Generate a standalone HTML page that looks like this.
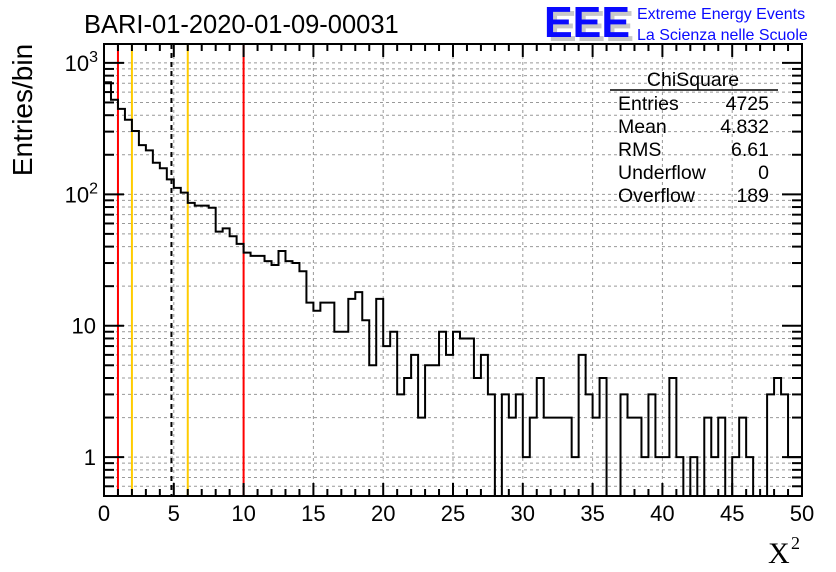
<!DOCTYPE html>
<html><head><meta charset="utf-8"><style>
body{margin:0;background:#fff;}
svg{display:block;font-family:"Liberation Sans",sans-serif;}
</style></head><body>
<svg id="chart" width="836" height="572" viewBox="0 0 836 572" xmlns="http://www.w3.org/2000/svg">
<rect width="836" height="572" fill="#fff"/>
<text x="84" y="33" font-size="25.5">BARI-01-2020-01-09-00031</text>
<g>
<text x="548" y="41" font-size="44" font-weight="bold" fill="#c8c8c8" textLength="86" lengthAdjust="spacingAndGlyphs">EEE</text>
<text x="544" y="37" font-size="44" font-weight="bold" fill="#0a0aff" textLength="86" lengthAdjust="spacingAndGlyphs">EEE</text>
<text x="637" y="19" font-size="16" fill="#0a0aff">Extreme Energy Events</text>
<text x="637" y="40" font-size="16" fill="#0a0aff">La Scienza nelle Scuole</text>
</g>
<g id="grid"></g>
<g id="marks"></g>
<g id="axes"></g>
<g font-size="19.5">
<text x="693" y="86" text-anchor="middle">ChiSquare</text>
<line x1="610" y1="90" x2="778" y2="90" stroke="#000" stroke-width="1.5"/>
<text x="618" y="110">Entries</text><text x="769" y="110" text-anchor="end">4725</text>
<text x="618" y="133">Mean</text><text x="769" y="133" text-anchor="end">4.832</text>
<text x="618" y="156">RMS</text><text x="769" y="156" text-anchor="end">6.61</text>
<text x="618" y="179">Underflow</text><text x="769" y="179" text-anchor="end">0</text>
<text x="618" y="202">Overflow</text><text x="769" y="202" text-anchor="end">189</text>
</g>
<text transform="translate(32,110) rotate(-90)" text-anchor="middle" font-size="28">Entries/bin</text>
<text x="768" y="563" font-size="30" font-family="Liberation Serif,serif">X</text>
<text x="791" y="549" font-size="18" font-family="Liberation Serif,serif">2</text>
</svg>
<script>
const binWidth = 0.5;
const counts = [713,525,447,369,303,237,216,174,158,130,112,103,86,82,82,79,52,55,48,42,36,34,34,31,29,37,31,30,26,15,13,15,15,9,9,16,18,11,5,16,7,9,3,4,6,2,5,5,9,6,9,8,8,4,6,3,0,3,2,3,1,2,4,2,2,2,2,1,6,3,2,4,0,0,3,2,2,1,3,1,1,4,1,0,1,0,2,1,2,0,1,2,1,0,0,3,4,3,1,1];
const xTicks = [0,5,10,15,20,25,30,35,40,45,50];
const yDecades = [1,10,100,1000];
const yLabels = ["1","10","10²","10³"];
const refLines = [1,2,4.832,6,10];
const refColors = ["#ff0000","#ffcc00","#000","#ffcc00","#ff0000"];

const L=104,R=802,T=44,B=496;
const xMin=0,xMax=50,yMin=0.506,yMax=1393;
const NS="http://www.w3.org/2000/svg";
function X(v){return L+(v-xMin)/(xMax-xMin)*(R-L);}
function Y(v){const lv=Math.log10(Math.max(v,yMin));return B-(lv-Math.log10(yMin))/(Math.log10(yMax)-Math.log10(yMin))*(B-T);}
function mk(tag,attrs,parent){const e=document.createElementNS(NS,tag);for(const k in attrs)e.setAttribute(k,attrs[k]);parent.appendChild(e);return e;}
const grid=document.getElementById('grid'),marks=document.getElementById('marks'),axes=document.getElementById('axes');
xTicks.forEach(t=>{if(t>xMin&&t<xMax)mk('line',{x1:X(t),x2:X(t),y1:T,y2:B,stroke:'#999','stroke-dasharray':'3,3'},grid);});
const minors=[];
for(let d=0.1;d<=1000;d*=10)for(let m=1;m<=9;m++){const v=+(d*m).toPrecision(3);if(v>=yMin&&v<=yMax)minors.push(v);}
minors.forEach(v=>mk('line',{x1:L,x2:R,y1:Y(v),y2:Y(v),stroke:'#999','stroke-dasharray':'3,3'},grid));
refLines.forEach((v,i)=>{
const l=mk('line',{x1:X(v),x2:X(v),y1:T,y2:B,stroke:refColors[i],'stroke-width':2},marks);
if(refColors[i]==="#000")l.setAttribute('stroke-dasharray','5,4');


});
let d='';
counts.forEach((c,i)=>{const x0=X(i*binWidth),x1=X((i+1)*binWidth),y=c>0?Y(c):B;
d+=(i===0?'M'+x0+','+y:'L'+x0+','+y)+'L'+x1+','+y;});
const h=mk('path',{d:d,fill:'none',stroke:'#000','stroke-width':2},marks);


const fr=mk('rect',{x:L,y:T,width:R-L,height:B-T,fill:'none',stroke:'#000','stroke-width':2},axes);


for(let t=xMin;t<=xMax;t++){const len=t%5===0?13:7;
mk('line',{x1:X(t),x2:X(t),y1:B,y2:B-len,stroke:'#000','stroke-width':2},axes);
mk('line',{x1:X(t),x2:X(t),y1:T,y2:T+len,stroke:'#000','stroke-width':2},axes);}
xTicks.forEach(t=>{const tx=mk('text',{x:X(t),y:B+25,'text-anchor':'middle','font-size':22},axes);tx.textContent=t;

});
minors.forEach(v=>{const major=yDecades.includes(v);const len=major?20:10;
mk('line',{x1:L,x2:L+len,y1:Y(v),y2:Y(v),stroke:'#000','stroke-width':2},axes);
mk('line',{x1:R,x2:R-len,y1:Y(v),y2:Y(v),stroke:'#000','stroke-width':2},axes);});
yDecades.forEach((v,i)=>{const tx=mk('text',{x:96,y:Y(v)+8,'text-anchor':'end','font-size':22},axes);
const lab=yLabels[i];
if(lab.length===3){tx.textContent='10';const s=mk('tspan',{dy:-9,'font-size':16},tx);s.textContent=lab==="10²"?'2':'3';tx.setAttribute('x',98);}
else tx.textContent=lab;

});
</script>
</body></html>
